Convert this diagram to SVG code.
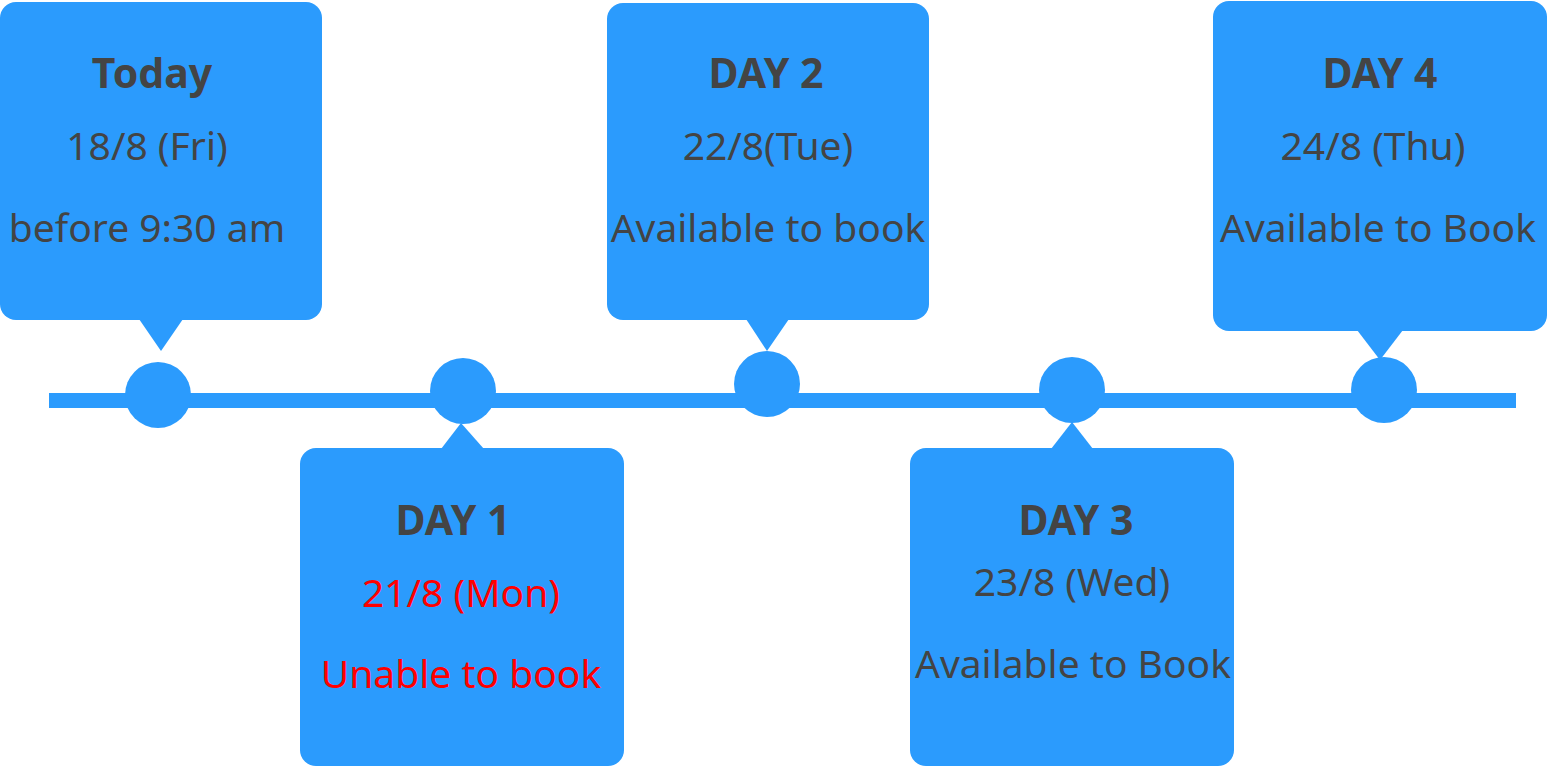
<svg xmlns="http://www.w3.org/2000/svg" width="1547" height="766" viewBox="0 0 1547 766">
<style>
.b{fill:#2b9bfd}
.t{font-family:"Noto Sans","Open Sans","DejaVu Sans",sans-serif;fill:#444;text-anchor:middle;font-size:39px}
.h{font-weight:bold;font-size:41px}
.r{fill:#ff0000}
</style>
<rect width="1547" height="766" fill="#fff"/>
<g id="connectors">
<rect class="b" x="49" y="393" width="1467" height="15"/>
<circle class="b" cx="158" cy="395" r="33"/>
<circle class="b" cx="463" cy="391" r="33"/>
<circle class="b" cx="767" cy="384" r="33"/>
<circle class="b" cx="1072" cy="390" r="33"/>
<circle class="b" cx="1384" cy="390" r="33"/>
</g>
<g id="today">
<rect class="b" x="0" y="2" width="322" height="318" rx="16"/>
<polygon class="b" points="139,319 183,319 161,351"/>
<text class="t h" x="152" y="88">Today</text>
<text class="t" x="147" y="160">18/8 (Fri)</text>
<text class="t" x="147" y="242">before 9:30 am</text>
</g>
<g id="day1">
<rect class="b" x="300" y="448" width="324" height="318" rx="16"/>
<polygon class="b" points="441,449 484,449 461,423"/>
<text class="t h" x="453" y="535">DAY 1</text>
<text class="t r" x="461" y="607">21/8 (Mon)</text>
<text class="t r" x="461" y="688">Unable to book</text>
</g>
<g id="day2">
<rect class="b" x="607" y="3" width="322" height="317" rx="16"/>
<polygon class="b" points="746,319 789,319 767,351"/>
<text class="t h" x="766" y="88">DAY 2</text>
<text class="t" x="768" y="160">22/8(Tue)</text>
<text class="t" x="768" y="242">Available to book</text>
</g>
<g id="day3">
<rect class="b" x="910" y="448" width="324" height="318" rx="16"/>
<polygon class="b" points="1051,449 1093,449 1072,422"/>
<text class="t h" x="1076" y="535">DAY 3</text>
<text class="t" x="1072" y="596">23/8 (Wed)</text>
<text class="t" x="1073" y="678">Available to Book</text>
</g>
<g id="day4">
<rect class="b" x="1213" y="1" width="334" height="330" rx="16"/>
<polygon class="b" points="1357,330 1403,330 1380,360"/>
<text class="t h" x="1380" y="88">DAY 4</text>
<text class="t" x="1373" y="160">24/8 (Thu)</text>
<text class="t" x="1378" y="242">Available to Book</text>
</g>
</svg>
